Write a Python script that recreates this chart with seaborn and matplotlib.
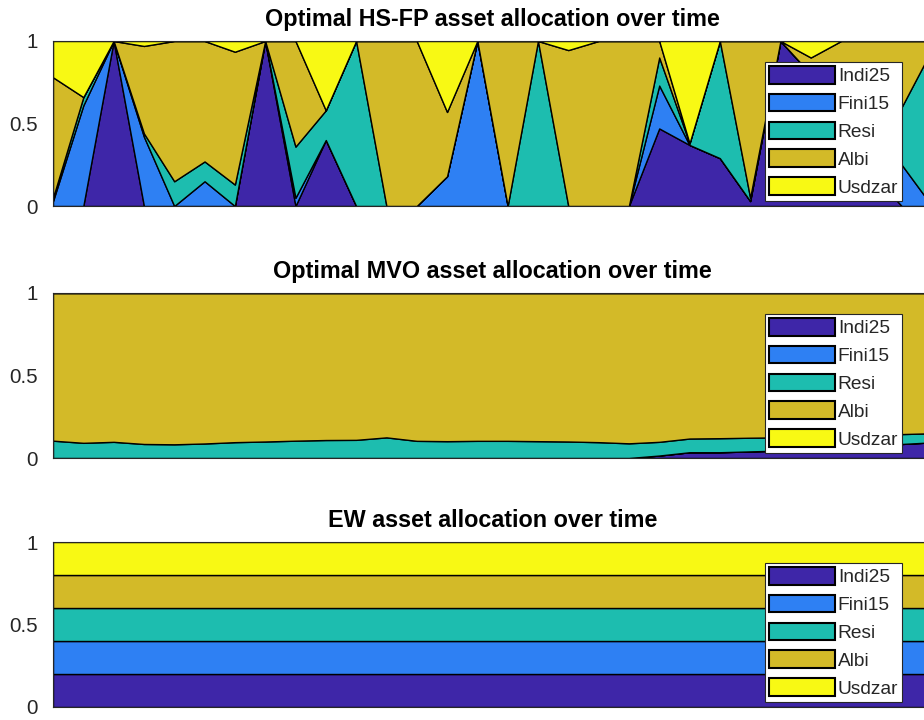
import numpy as np
import pandas as pd
import matplotlib
matplotlib.use("Agg")
import matplotlib.pyplot as plt
import seaborn as sns

# ---------------- data ----------------
periods = list(range(1, 31))
assets = ["Indi25", "Fini15", "Resi", "Albi", "Usdzar"]
titles = ["Optimal HS-FP asset allocation over time",
          "Optimal MVO asset allocation over time",
          "EW asset allocation over time"]
ytick_vals = [0, 0.5, 1]
ytick_labels = ["0", "0.5", "1"]
xtick_vals = [5, 10, 15, 20, 25, 30]

hs_indi = [0, 0, 1, 0, 0, 0, 0, 1, 0, 0.40, 0, 0, 0, 0, 0,
           0, 0, 0, 0, 0, 0.47, 0.37, 0.29, 0.03, 1, 0.80, 0.50, 0.20, 0, 0]
hs_fini = [0.03, 0.61, 0, 0.42, 0, 0.15, 0, 0, 0.05, 0, 0, 0, 0, 0.18, 1,
           0, 0, 0, 0, 0, 0.26, 0, 0, 0, 0, 0, 0.10, 0.30, 0.25, 0]
hs_resi = [0.02, 0.05, 0, 0.02, 0.15, 0.12, 0.13, 0, 0.31, 0.18, 1, 0, 0, 0, 0,
           0, 1, 0, 0, 0, 0.17, 0.01, 0.71, 0.02, 0, 0, 0, 0.10, 0.35, 0.95]
hs_albi = [0.73, 0, 0, 0.53, 0.85, 0.73, 0.805, 0, 0.64, 0, 0, 1, 1, 0.39, 0,
           1, 0, 0.945, 1, 1, 0.10, 0, 0, 0.95, 0, 0.10, 0.40, 0.40, 0.40, 0.05]
hs_usd = [0.22, 0.34, 0, 0.03, 0, 0, 0.065, 0, 0, 0.42, 0, 0, 0, 0.43, 0,
          0, 0, 0.055, 0, 0, 0, 0.62, 0, 0, 0, 0.10, 0, 0, 0, 0]

mvo_indi = [0, 0, 0, 0, 0, 0, 0, 0, 0, 0, 0, 0, 0, 0, 0,
            0, 0, 0, 0, 0, 0.015, 0.035, 0.035, 0.04, 0.045, 0.05, 0.06, 0.07, 0.085, 0.095]
mvo_fini = [0] * 30
mvo_resi = [0.105, 0.092, 0.098, 0.085, 0.083, 0.088, 0.096, 0.100, 0.105, 0.109,
            0.110, 0.125, 0.104, 0.102, 0.104, 0.104, 0.102, 0.100, 0.096, 0.089,
            0.083, 0.083, 0.085, 0.083, 0.080, 0.080, 0.075, 0.070, 0.060, 0.055]
mvo_albi = [1 - a - b for a, b in zip(mvo_indi, mvo_resi)]
mvo_usd = [0] * 30

ew_indi = [0.2] * 30
ew_fini = [0.2] * 30
ew_resi = [0.2] * 30
ew_albi = [0.2] * 30
ew_usd = [0.2] * 30

panels = [
    [hs_indi, hs_fini, hs_resi, hs_albi, hs_usd],
    [mvo_indi, mvo_fini, mvo_resi, mvo_albi, mvo_usd],
    [ew_indi, ew_fini, ew_resi, ew_albi, ew_usd],
]

# ---------------- style ----------------
sns.set_theme(style="white")
plt.rcParams['font.family'] = ['Liberation Sans', 'DejaVu Sans']
palette = sns.color_palette(["#3E26A8", "#2E80F3", "#1DBDAF", "#D3BA28", "#F8F914"])

W, H = 924, 720
fig = plt.figure(figsize=(W / 100, H / 100), dpi=100)
fig.patch.set_facecolor("white")

ax_left, ax_right = 53, 932
tops = [41, 293, 542]
height = 165
leg_tops = [62, 314, 563]

for k, (series, title) in enumerate(zip(panels, titles)):
    top = tops[k]
    ax = fig.add_axes([ax_left / W, 1 - (top + height) / H,
                       (ax_right - ax_left) / W, height / H])
    df = pd.DataFrame({a: s for a, s in zip(assets, series)}, index=periods)
    ax.stackplot(df.index, *[df[a] for a in assets], labels=assets,
                 colors=palette, edgecolor="black", linewidth=1.0)
    ax.set_xlim(1, 30)
    ax.set_ylim(0, 1)
    ax.set_xticks(xtick_vals)
    ax.set_xticklabels([])
    ax.set_yticks(ytick_vals)
    ax.set_yticklabels(ytick_labels)
    ax.tick_params(direction="in", length=5, width=0.8, top=True, right=True,
                   labelsize=14.8, pad=11, colors="#262626", labelcolor="#262626")
    for sp in ax.spines.values():
        sp.set_color("#262626")
        sp.set_linewidth(0.8)
    ax.set_title(title, fontsize=16.8, fontweight="bold", pad=11, color="black")
    leg = ax.legend(loc="upper left", bbox_to_anchor=(765 / W, 1 - leg_tops[k] / H),
                    bbox_transform=fig.transFigure, fontsize=13.8,
                    frameon=True, fancybox=False, framealpha=1,
                    edgecolor="#262626", borderpad=0.2, labelspacing=0.44,
                    handlelength=3.45, handleheight=1.05, handletextpad=0.15,
                    borderaxespad=0)
    leg.get_frame().set_linewidth(0.8)
    for h in leg.legend_handles:
        h.set_edgecolor("black")
        h.set_linewidth(1.5)

fig.savefig("out.png", dpi=100, facecolor="white")
